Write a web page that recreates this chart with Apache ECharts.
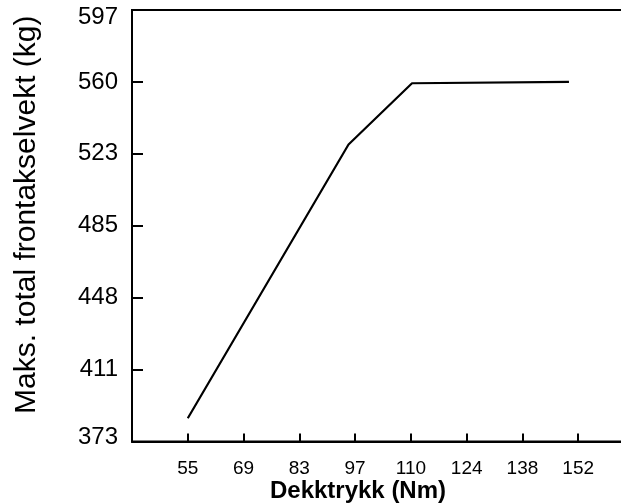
<!DOCTYPE html>
<html>
<head>
<meta charset="utf-8">
<script src="https://cdn.jsdelivr.net/npm/echarts@6/dist/echarts.min.js"></script>
<style>
html,body{margin:0;padding:0;background:#fff;}
#chart{width:621px;height:504px;}
</style>
</head>
<body>
<div id="chart"></div>
<script>
// Data (pressure in Nm-labelled units, weight in kg)
var pressure = [55.16, 94.9, 110.6, 149.4];
var maxWeight = [385.4, 527.5, 559.3, 560.0];

// Tick values and labels
var xTickValues = [55.16, 68.95, 82.74, 96.53, 110.32, 124.11, 137.9, 151.68];
var xTickLabels = ['55', '69', '83', '97', '110', '124', '138', '152'];
var yTickValues = [373.3333, 410.6667, 448, 485.3333, 522.6667, 560, 597.3333];
var yTickLabels = ['373', '411', '448', '485', '523', '560', '597'];

var xTitle = 'Dekktrykk (Nm)';
var yTitle = 'Maks. total frontakselvekt (kg)';

var chart = echarts.init(document.getElementById('chart'), null, {renderer: 'canvas'});

function labelIndex(values, v) {
  for (var i = 0; i < values.length; i++) {
    if (Math.abs(values[i] - v) < 0.05) return i;
  }
  return -1;
}

var seriesData = pressure.map(function (p, i) { return [p, maxWeight[i]]; });

var font = '"Liberation Sans", Arial, sans-serif';

chart.setOption({
  animation: false,
  backgroundColor: '#fff',
  grid: {
    left: 132, right: -13, top: 10, bottom: 62.5,
    containLabel: false, outerBoundsMode: 'none',
    show: true, borderColor: '#000', borderWidth: 2, backgroundColor: 'transparent'
  },
  xAxis: {
    type: 'value',
    min: 41.37, max: 165.48,
    name: xTitle,
    nameLocation: 'middle',
    nameGap: 38,
    nameMoveOverlap: false,
    nameTextStyle: {fontFamily: font, fontSize: 24, fontWeight: 'bold', color: '#000', padding: [0, 50, 0, 0]},
    axisLine: {show: true, onZero: false, lineStyle: {color: '#000', width: 2}},
    axisTick: {show: true, inside: true, length: 8, lineStyle: {color: '#000', width: 2}, customValues: xTickValues},
    axisLabel: {
      show: true, fontFamily: font, fontSize: 19, color: '#000', margin: 18,
      customValues: xTickValues,
      formatter: function (v) {
        var i = labelIndex(xTickValues, v);
        return i < 0 ? '' : xTickLabels[i];
      }
    },
    splitLine: {show: false}
  },
  yAxis: {
    type: 'value',
    min: 373.3333, max: 597.3333, interval: 37.3333,
    name: yTitle,
    nameLocation: 'middle',
    nameRotate: 90,
    nameGap: 90,
    nameMoveOverlap: false,
    nameTextStyle: {fontFamily: font, fontSize: 30, color: '#000', padding: [0, 0, 0, 22]},
    axisLine: {show: true, onZero: false, lineStyle: {color: '#000', width: 2}},
    axisTick: {show: true, inside: true, length: 11, lineStyle: {color: '#000', width: 2}},
    axisLabel: {
      show: true, fontFamily: font, fontSize: 24, color: '#000', margin: 14,
      formatter: function (v) {
        var i = labelIndex(yTickValues, v);
        if (i < 0) return '';
        if (i === yTickValues.length - 1) return '{mx|' + yTickLabels[i] + '}';
        if (i === 0) return '{mn|' + yTickLabels[i] + '}';
        return yTickLabels[i];
      },
      rich: {
        mx: {fontFamily: font, fontSize: 24, color: '#000', padding: [14, 0, 0, 0]},
        mn: {fontFamily: font, fontSize: 24, color: '#000', padding: [0, 0, 9, 0]}
      }
    },
    splitLine: {show: false}
  },
  series: [{
    type: 'line',
    data: seriesData,
    showSymbol: false,
    symbol: 'none',
    lineStyle: {color: '#000', width: 2.2},
    itemStyle: {color: '#000'}
  }]
});
</script>
</body>
</html>
